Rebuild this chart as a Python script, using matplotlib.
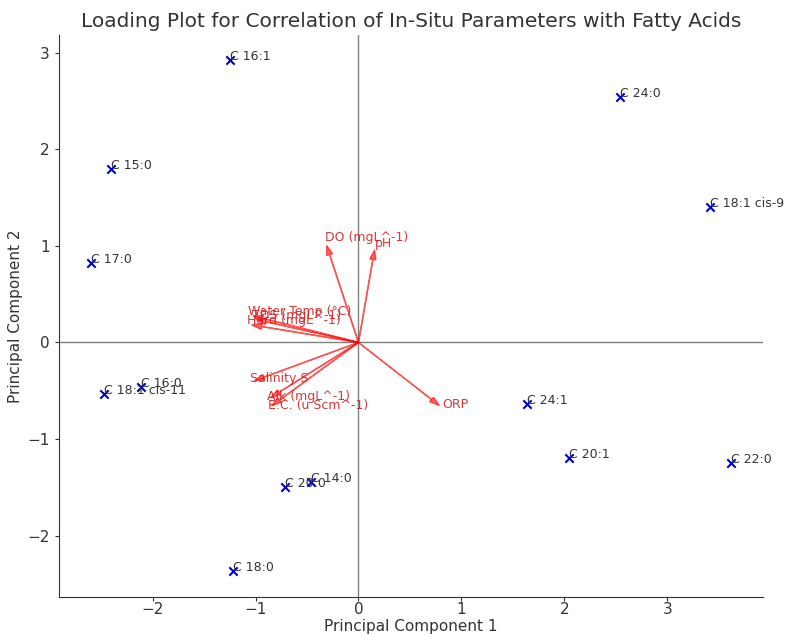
import matplotlib
matplotlib.use("Agg")
import matplotlib.pyplot as plt

# fatty acid scores on the first two principal components
acids = [
    "C 16:1", "C 24:0", "C 15:0", "C 18:1 cis-9", "C 17:0", "C 16:0",
    "C 18:1 cis-11", "C 24:1", "C 20:1", "C 22:0", "C 20:0", "C 14:0", "C 18:0",
]
pc1 = [-1.25, 2.54, -2.40, 3.42, -2.60, -2.11, -2.47, 1.64, 2.05, 3.62, -0.71, -0.46, -1.22]
pc2 = [2.92, 2.54, 1.80, 1.40, 0.82, -0.46, -0.53, -0.64, -1.20, -1.25, -1.50, -1.44, -2.37]

# in-situ parameter loadings
params = [
    "DO (mgL^-1)", "pH", "ORP", "Water Temp (°C)", "TDS (mgL^-1)", "Hard (mgL^-1)",
    "Salinity S", "Alk (mgL^-1)", "E.C. (u Scm^-1)",
]
load1 = [-0.28, 0.14, 0.71, -0.93, -0.90, -0.94, -0.92, -0.77, -0.765]
load2 = [0.91, 0.86, -0.59, 0.25, 0.215, 0.165, -0.36, -0.515, -0.595]

plt.rcParams["font.family"] = "DejaVu Sans"
plt.rcParams["axes.edgecolor"] = "#333333"
plt.rcParams["xtick.color"] = "#333333"
plt.rcParams["ytick.color"] = "#333333"

fig = plt.figure(figsize=(7.85, 6.35), dpi=100)
ax = fig.add_axes([0.075, 0.06, 0.897, 0.885])

ax.scatter(pc1, pc2, marker="x", color="mediumblue", s=36, zorder=3)
for name, x, y in zip(acids, pc1, pc2):
    ax.text(x, y, name, fontsize=9, color="#333333")

for name, dx, dy in zip(params, load1, load2):
    ax.arrow(0, 0, dx, dy, color="red", alpha=0.6, width=0.003,
             head_width=0.06, head_length=0.1)
    ax.text(dx * 1.15, dy * 1.15, name, fontsize=9, color="#d62020", alpha=0.9)

ax.axhline(0, color="grey", lw=1, zorder=0)
ax.axvline(0, color="grey", lw=1, zorder=0)

ax.spines["top"].set_visible(False)
ax.spines["right"].set_visible(False)
ax.tick_params(labelsize=11, length=3)
ax.tick_params(axis="x", pad=1)

ax.set_title("Loading Plot for Correlation of In-Situ Parameters with Fatty Acids",
             fontsize=14.5, color="#333333")
ax.set_xlabel("Principal Component 1", fontsize=11, color="#333333", labelpad=1)
ax.set_ylabel("Principal Component 2", fontsize=11, color="#333333", labelpad=3)

fig.savefig("out.png", dpi=100)
